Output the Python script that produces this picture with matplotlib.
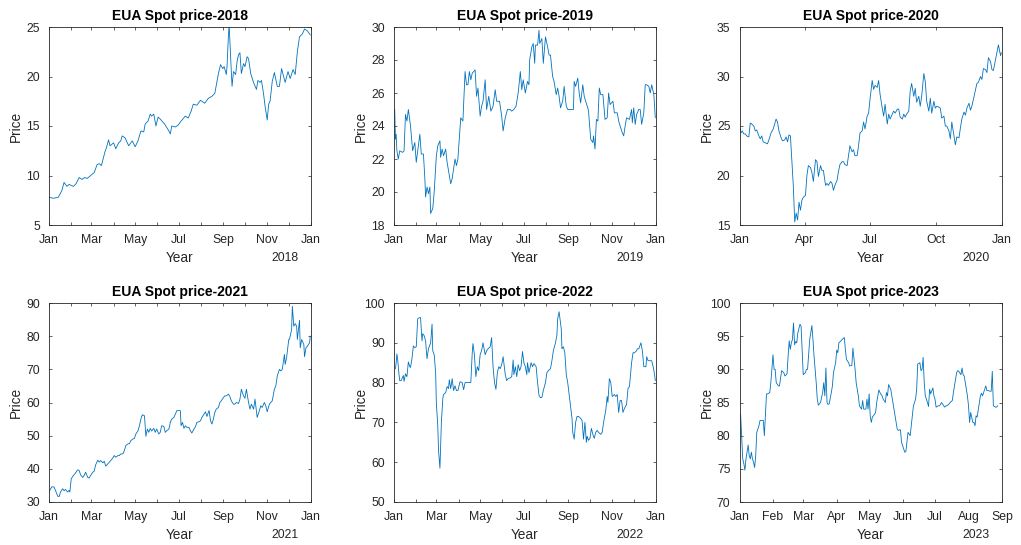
import numpy as np
import matplotlib
matplotlib.use("Agg")
import matplotlib.pyplot as plt

plt.rcParams["font.family"] = ["Liberation Sans", "DejaVu Sans"]

# Daily EUA spot prices, sampled as (day offset from 1 January, price in EUR/t)
days_2018 = [1, 6, 13, 18, 21, 25, 28, 34, 38, 42, 46, 50, 53, 58, 63, 67, 70, 73, 78, 80,
             83, 85, 90, 93, 97, 100, 102, 106, 111, 116, 120, 124, 128, 132, 134, 138, 141, 143, 146, 149,
             152, 155, 161, 167, 169, 171, 176, 180, 184, 190, 194, 198, 201, 206, 211, 217, 222, 227, 231, 236,
             239, 242, 244, 247, 248, 250, 251, 253, 255, 257, 260, 262, 264, 266, 268, 271, 273, 276, 278, 281,
             284, 286, 289, 291, 294, 296, 299, 301, 304, 306, 308, 311, 314, 318, 321, 324, 329, 333, 336, 340,
             343, 346, 349, 353, 356, 360, 364]
price_2018 = [7.8, 7.7, 7.8, 8.5, 9.3, 8.9, 9.1, 8.9, 9.2, 9.8, 9.6, 9.8, 9.7, 10.0, 10.3, 11.1, 11.2, 11.0, 12.4, 12.8,
              13.6, 13.0, 13.3, 12.7, 13.3, 13.5, 14.0, 13.8, 13.0, 13.5, 12.9, 13.5, 14.5, 14.4, 15.2, 15.5, 16.2, 16.0, 16.2, 15.0,
              15.9, 15.7, 15.2, 14.5, 14.2, 15.0, 14.9, 15.1, 15.5, 16.0, 15.8, 16.5, 17.2, 17.1, 17.6, 17.3, 17.8, 18.0, 18.3, 20.3,
              21.2, 20.8, 21.0, 20.2, 21.0, 24.2, 25.2, 22.0, 19.0, 20.5, 20.2, 21.5, 22.2, 22.4, 20.3, 21.3, 21.0, 22.0, 21.8, 20.3,
              19.6, 19.2, 18.7, 19.6, 19.4, 19.6, 18.2, 17.0, 15.6, 17.2, 17.5, 19.5, 20.4, 19.0, 19.0, 20.8, 19.4, 20.5, 19.8, 20.7,
              20.2, 22.5, 24.0, 24.3, 24.8, 24.6, 24.2]

days_2019 = [1, 2, 3, 4, 6, 8, 12, 14, 16, 18, 20, 23, 26, 29, 31, 34, 36, 38, 41, 43,
             44, 46, 48, 50, 51, 54, 56, 59, 61, 64, 65, 67, 69, 72, 74, 77, 79, 81, 85, 87,
             89, 93, 96, 99, 101, 103, 105, 107, 109, 113, 115, 117, 120, 122, 124, 127, 129, 132, 135, 138,
             141, 143, 147, 150, 152, 155, 158, 162, 164, 167, 170, 173, 176, 178, 180, 183, 186, 188, 189, 192,
             194, 196, 197, 200, 202, 203, 206, 208, 211, 214, 216, 218, 221, 223, 226, 228, 230, 232, 235, 237,
             240, 242, 244, 250, 251, 253, 256, 258, 260, 263, 265, 267, 270, 271, 274, 277, 278, 280, 282, 284,
             286, 288, 291, 294, 297, 299, 301, 305, 307, 311, 313, 315, 318, 320, 322, 324, 328, 331, 332, 334,
             336, 338, 341, 343, 345, 348, 350, 352, 355, 357, 359, 362, 364]
price_2019 = [25.0, 23.2, 23.5, 22.5, 22.0, 22.5, 22.4, 22.5, 24.7, 24.3, 25.0, 24.0, 22.5, 23.0, 21.8, 22.8, 23.5, 22.3, 22.3, 20.8,
              19.7, 20.3, 19.9, 20.3, 18.7, 19.0, 20.0, 22.2, 22.8, 23.1, 22.1, 22.6, 22.2, 22.6, 21.8, 21.0, 20.5, 20.8, 22.0, 21.6,
              22.0, 24.5, 24.3, 27.3, 26.5, 26.5, 27.3, 26.8, 27.2, 27.4, 25.8, 26.3, 24.6, 25.2, 25.5, 26.8, 25.0, 25.8, 24.9, 25.2,
              26.2, 25.5, 25.5, 24.6, 23.7, 24.5, 25.0, 25.0, 24.9, 25.0, 25.2, 26.0, 27.3, 26.2, 26.8, 26.0, 26.7, 26.5, 28.0, 28.8,
              29.0, 27.8, 28.9, 28.9, 29.8, 29.0, 29.3, 27.8, 29.4, 28.8, 28.3, 28.3, 27.0, 26.7, 25.9, 26.3, 25.8, 25.1, 25.5, 26.4,
              25.2, 25.0, 25.0, 25.0, 26.7, 26.4, 26.9, 26.0, 25.4, 26.5, 25.8, 25.5, 25.1, 24.9, 23.2, 23.0, 23.4, 22.6, 24.4, 24.3,
              26.3, 25.9, 25.9, 24.4, 24.5, 26.0, 25.3, 25.5, 24.8, 24.8, 24.3, 24.0, 23.6, 23.4, 24.0, 24.5, 24.4, 25.0, 24.2, 25.1,
              24.1, 24.7, 25.0, 25.0, 24.1, 24.8, 26.5, 26.5, 26.4, 26.0, 26.5, 25.9, 24.5]

days_2020 = [1, 2, 4, 6, 8, 10, 13, 15, 17, 20, 22, 24, 27, 29, 31, 33, 36, 39, 41, 44,
             47, 49, 51, 53, 55, 58, 60, 63, 65, 67, 69, 71, 73, 75, 77, 79, 81, 83, 85, 87,
             89, 92, 94, 96, 99, 101, 103, 106, 108, 110, 113, 115, 117, 120, 122, 124, 127, 129, 131, 133,
             136, 138, 140, 143, 145, 147, 150, 152, 154, 157, 159, 161, 164, 166, 168, 171, 173, 175, 178, 180,
             182, 185, 187, 189, 192, 194, 196, 199, 201, 203, 206, 208, 210, 213, 215, 217, 220, 222, 224, 227,
             229, 231, 233, 236, 238, 240, 243, 245, 247, 250, 252, 254, 257, 259, 261, 264, 266, 268, 271, 273,
             275, 278, 280, 282, 285, 287, 289, 292, 294, 296, 299, 301, 303, 306, 308, 310, 313, 315, 317, 320,
             322, 324, 327, 329, 331, 333, 336, 338, 340, 343, 345, 347, 350, 352, 354, 357, 359, 361, 364, 365]
price_2020 = [24.8, 24.3, 24.5, 24.2, 24.2, 24.0, 23.9, 25.3, 25.2, 25.0, 24.5, 24.6, 24.0, 23.7, 24.0, 23.4, 23.3, 23.2, 23.6, 24.3,
              24.7, 25.2, 25.7, 25.4, 24.5, 23.8, 23.5, 23.6, 23.9, 23.4, 24.1, 24.0, 21.5, 19.0, 15.3, 16.2, 15.5, 17.3, 16.5, 17.5,
              17.8, 18.0, 20.0, 21.0, 20.8, 20.3, 19.4, 21.6, 21.4, 19.9, 21.0, 20.5, 20.5, 19.0, 19.2, 19.0, 19.4, 19.2, 18.5, 19.0,
              19.5, 20.4, 21.1, 21.4, 21.4, 21.1, 21.0, 22.0, 23.0, 22.4, 22.6, 22.0, 22.0, 23.0, 24.3, 24.5, 25.4, 24.7, 26.0, 26.3,
              27.7, 29.6, 28.7, 29.1, 28.9, 29.6, 28.2, 26.8, 26.0, 27.2, 25.2, 26.2, 25.7, 26.2, 26.5, 26.3, 26.7, 26.7, 25.9, 25.7,
              26.2, 25.9, 26.2, 26.5, 28.5, 29.3, 28.0, 28.8, 27.4, 28.0, 27.0, 28.0, 30.3, 29.5, 27.5, 26.5, 27.8, 26.3, 27.5, 26.8,
              27.0, 26.9, 26.8, 25.8, 26.0, 25.0, 25.0, 24.5, 23.7, 25.4, 24.0, 23.1, 23.9, 23.8, 24.8, 25.7, 26.4, 26.1, 26.8, 27.3,
              26.6, 27.0, 28.0, 28.7, 29.3, 29.4, 30.0, 29.7, 30.8, 30.7, 30.4, 31.9, 31.5, 30.7, 30.6, 31.7, 32.4, 33.2, 32.1, 32.4]

days_2021 = [0, 1, 4, 7, 9, 12, 14, 16, 19, 21, 23, 26, 28, 29, 31, 34, 36, 40, 42, 44,
             47, 49, 51, 54, 56, 58, 61, 63, 65, 68, 70, 72, 75, 77, 79, 82, 84, 86, 89, 91,
             93, 96, 98, 100, 103, 105, 107, 110, 112, 114, 117, 119, 121, 124, 126, 128, 130, 133, 135, 137,
             139, 141, 143, 146, 148, 150, 153, 155, 157, 160, 162, 164, 167, 169, 171, 174, 176, 178, 181, 183,
             184, 186, 188, 190, 192, 195, 197, 199, 202, 204, 206, 209, 211, 213, 216, 218, 220, 223, 225, 227,
             229, 231, 233, 236, 238, 240, 243, 245, 247, 250, 252, 254, 257, 259, 261, 264, 266, 268, 271, 273,
             275, 278, 280, 282, 285, 287, 289, 290, 293, 295, 297, 300, 302, 304, 307, 309, 311, 314, 316, 318,
             321, 323, 325, 328, 329, 331, 334, 335, 338, 339, 341, 343, 345, 346, 349, 350, 352, 355, 356, 358,
             360, 363, 364]
price_2021 = [33.0, 33.5, 34.6, 34.5, 33.5, 31.8, 31.6, 33.0, 34.0, 33.4, 33.8, 33.0, 33.5, 33.0, 37.0, 38.0, 38.5, 39.7, 39.5, 38.2,
              37.4, 38.0, 39.0, 37.4, 37.2, 38.0, 39.0, 39.3, 41.2, 42.6, 42.0, 42.5, 41.8, 42.3, 40.8, 41.5, 42.0, 42.5, 43.3, 44.0,
              43.5, 44.0, 44.0, 44.5, 44.5, 45.5, 47.0, 47.5, 47.6, 48.5, 49.0, 49.2, 50.5, 51.5, 53.0, 55.0, 56.3, 56.0, 49.8, 52.0,
              51.0, 52.2, 51.4, 52.2, 51.0, 52.0, 50.5, 51.0, 53.0, 52.8, 51.0, 51.5, 52.0, 54.0, 55.0, 55.5, 56.5, 57.5, 57.6, 57.5,
              53.0, 54.0, 52.2, 53.0, 52.5, 52.5, 51.5, 50.8, 52.0, 52.7, 54.0, 54.2, 54.5, 55.5, 56.5, 57.2, 55.8, 57.6, 54.5, 53.5,
              55.0, 57.0, 58.0, 58.5, 60.0, 60.5, 61.5, 62.0, 62.0, 62.5, 61.8, 60.5, 59.5, 59.5, 60.0, 59.7, 61.0, 64.0, 62.0, 61.3,
              64.0, 60.0, 58.0, 59.5, 58.0, 61.0, 57.5, 55.5, 57.5, 59.0, 58.5, 60.0, 59.0, 57.2, 59.5, 60.0, 60.5, 64.0, 65.0, 68.0,
              70.0, 69.5, 70.0, 74.5, 71.5, 73.5, 79.0, 79.0, 82.0, 89.0, 83.0, 83.8, 83.0, 79.0, 84.8, 76.5, 79.0, 77.5, 73.8, 76.5,
              77.0, 78.0, 80.0]

days_2022 = [2, 3, 4, 5, 7, 8, 10, 13, 14, 16, 18, 20, 22, 23, 25, 27, 29, 31, 33, 35,
             37, 39, 40, 42, 44, 46, 48, 50, 51, 53, 54, 56, 58, 59, 61, 62, 64, 66, 68, 69,
             72, 74, 76, 77, 79, 81, 83, 85, 87, 89, 92, 95, 97, 99, 101, 103, 107, 109, 110, 112,
             114, 116, 118, 120, 122, 124, 127, 129, 131, 134, 136, 138, 140, 142, 144, 146, 148, 150, 152, 155,
             157, 159, 162, 164, 166, 167, 169, 171, 173, 175, 177, 179, 181, 183, 185, 186, 188, 191, 193, 195,
             198, 200, 202, 204, 206, 208, 211, 213, 215, 218, 220, 222, 225, 227, 228, 230, 232, 233, 234, 236,
             238, 240, 242, 244, 246, 248, 249, 251, 253, 255, 257, 260, 262, 264, 266, 268, 269, 271, 273, 275,
             277, 279, 281, 283, 285, 288, 290, 292, 295, 297, 298, 300, 302, 304, 307, 309, 311, 313, 315, 317,
             319, 321, 324, 326, 328, 331, 333, 335, 338, 339, 341, 344, 346, 348, 351, 352, 354, 357, 359, 361,
             363, 364]
price_2022 = [83.5, 85.0, 87.2, 86.0, 82.0, 80.5, 80.5, 81.8, 80.3, 82.2, 81.5, 85.2, 84.0, 83.8, 86.0, 89.2, 88.8, 89.0, 96.0, 96.3,
              96.3, 90.5, 92.3, 91.8, 90.5, 86.0, 88.5, 89.5, 89.8, 94.7, 88.0, 87.0, 82.5, 75.0, 69.0, 63.0, 58.5, 70.0, 76.0, 77.0,
              77.5, 79.0, 78.5, 80.7, 78.5, 81.0, 78.0, 79.2, 78.0, 78.0, 80.2, 80.0, 78.2, 80.0, 80.0, 80.0, 80.0, 87.5, 89.8, 87.0,
              81.5, 84.0, 83.0, 87.0, 88.0, 90.0, 87.0, 88.0, 88.5, 89.0, 91.3, 84.0, 80.0, 78.3, 82.5, 84.0, 83.5, 84.5, 86.5, 82.0,
              80.5, 81.0, 81.2, 81.5, 85.7, 82.0, 84.0, 81.5, 84.5, 83.0, 84.0, 87.8, 85.0, 84.0, 82.0, 85.0, 82.5, 85.0, 84.0, 84.8,
              84.0, 80.0, 76.8, 76.2, 76.3, 78.0, 80.0, 82.5, 83.0, 83.5, 85.5, 88.0, 90.0, 92.0, 96.0, 97.8, 95.0, 93.5, 88.5, 89.0,
              87.5, 82.0, 80.0, 77.0, 74.0, 71.0, 67.5, 65.8, 70.0, 71.5, 71.5, 71.0, 70.5, 65.8, 70.0, 65.0, 66.5, 65.5, 66.0, 68.5,
              67.0, 66.0, 67.5, 68.0, 67.5, 67.0, 67.5, 70.0, 73.0, 76.5, 75.0, 81.0, 80.0, 76.5, 77.0, 76.5, 77.0, 72.5, 75.5, 75.5,
              72.5, 73.5, 74.5, 78.5, 79.0, 85.0, 87.5, 87.5, 88.0, 88.5, 88.5, 90.0, 88.0, 84.0, 84.0, 86.5, 85.5, 85.5, 85.5, 84.0,
              82.0, 80.5]

days_2023 = [1, 2, 3, 4, 5, 6, 7, 8, 9, 10, 11, 12, 13, 14, 15, 16, 18, 19, 20, 22,
             23, 24, 25, 26, 28, 29, 31, 32, 33, 34, 36, 37, 39, 41, 42, 44, 45, 46, 47, 48,
             49, 50, 51, 52, 53, 54, 56, 57, 58, 59, 61, 62, 63, 65, 67, 68, 69, 71, 72, 73,
             74, 75, 77, 78, 79, 80, 81, 82, 83, 85, 86, 87, 89, 90, 91, 92, 94, 95, 97, 98,
             99, 101, 102, 104, 105, 107, 108, 110, 111, 113, 114, 115, 116, 117, 118, 119, 120, 121, 122, 123,
             124, 126, 127, 129, 130, 132, 133, 135, 136, 137, 138, 140, 141, 143, 144, 146, 147, 149, 150, 151,
             153, 154, 155, 156, 158, 159, 160, 161, 163, 164, 165, 167, 168, 169, 170, 171, 172, 174, 175, 176,
             177, 179, 180, 181, 182, 184, 185, 186, 187, 189, 190, 191, 192, 194, 195, 197, 198, 200, 201, 202,
             203, 205, 206, 207, 208, 210, 211, 212, 213, 214, 216, 217, 218, 219, 220, 222, 223, 224, 225, 227,
             228, 229, 230, 232, 233, 234, 235, 237, 238, 239]
price_2023 = [83.3, 80.0, 76.5, 75.8, 74.8, 76.5, 77.5, 78.6, 77.0, 76.5, 77.5, 76.5, 76.0, 75.2, 77.0, 80.5, 81.5, 82.3, 82.3, 82.3,
              80.0, 83.0, 86.3, 86.3, 86.5, 88.0, 92.2, 90.0, 90.0, 88.0, 87.5, 87.5, 89.8, 89.5, 89.0, 89.3, 92.0, 94.3, 93.0, 94.0,
              94.5, 97.0, 93.7, 94.2, 94.0, 95.5, 96.8, 96.5, 93.0, 89.2, 89.5, 90.0, 90.0, 94.5, 96.6, 94.5, 92.0, 88.0, 85.5, 84.6,
              84.8, 85.0, 86.5, 88.0, 86.0, 90.2, 85.0, 84.7, 84.8, 86.5, 87.5, 89.5, 91.0, 92.9, 92.5, 94.0, 94.3, 94.5, 94.8, 93.0,
              91.5, 91.0, 90.5, 90.6, 93.2, 90.0, 88.0, 86.0, 84.5, 84.0, 85.3, 84.0, 84.0, 84.0, 85.5, 84.0, 86.3, 83.0, 82.0, 82.8,
              83.0, 83.5, 85.0, 86.9, 86.5, 86.0, 85.5, 85.0, 86.5, 86.0, 87.7, 87.0, 86.0, 84.0, 83.0, 81.0, 80.8, 80.9, 79.0, 78.5,
              77.5, 77.6, 79.0, 80.5, 80.0, 81.5, 83.0, 84.5, 85.5, 87.0, 90.8, 91.0, 89.8, 90.0, 91.8, 88.0, 86.0, 85.0, 84.4, 87.0,
              86.3, 87.2, 86.0, 85.5, 84.3, 84.5, 84.5, 84.7, 85.0, 84.5, 84.3, 84.5, 84.5, 84.8, 85.0, 85.3, 86.5, 88.5, 89.5, 89.8,
              89.7, 89.2, 90.2, 89.2, 89.0, 87.0, 86.0, 84.5, 82.0, 83.5, 82.0, 82.0, 81.5, 83.0, 82.8, 85.0, 86.0, 86.4, 86.0, 87.0,
              87.5, 86.8, 86.8, 86.7, 86.7, 89.7, 84.5, 84.3, 84.3, 84.5]

years = [2018, 2019, 2020, 2021, 2022, 2023]
day_series = [days_2018, days_2019, days_2020, days_2021, days_2022, days_2023]
price_series = [price_2018, price_2019, price_2020, price_2021, price_2022, price_2023]
y_limits = [(5, 25), (18, 30), (15, 35), (30, 90), (50, 100), (70, 100)]
y_steps = [5, 2, 5, 10, 10, 5]
x_end = ["2019-01-01", "2020-01-01", "2021-01-01", "2022-01-01", "2023-01-01", "2023-09-01"]
tick_month_step = [1, 1, 3, 1, 1, 1]
label_month_step = [2, 2, 3, 2, 2, 1]

LINE = "#0072BD"
INK = "#262626"

W, H = 1021, 545
fig = plt.figure(figsize=(W / 100, H / 100), dpi=100)

# axes boxes in pixels: (left, right) per column, (top, bottom) per row
col_x = [(49, 311), (394, 656), (739.5, 1002)]
row_y = [(27, 225), (303, 502)]

for i, yr in enumerate(years):
    r, c = divmod(i, 3)
    x0, x1 = col_x[c]
    t0, b0 = row_y[r]
    ax = fig.add_axes([x0 / W, 1 - b0 / H, (x1 - x0) / W, (b0 - t0) / H])
    bw, bh = x1 - x0, b0 - t0

    start = np.datetime64(f"{yr}-01-01")
    dates = start + np.array(day_series[i], dtype="timedelta64[D]")
    ax.plot(dates, price_series[i], color=LINE, lw=0.6)

    end = np.datetime64(x_end[i])
    ax.set_xlim(start, end)
    lo, hi = y_limits[i]
    ax.set_ylim(lo, hi)
    ax.set_yticks(np.arange(lo, hi + 0.001, y_steps[i]))

    # monthly ticks, labelled at regular month steps
    months = np.arange(np.datetime64(f"{yr}-01"), np.datetime64(x_end[i][:7]) + 1,
                       tick_month_step[i])
    ax.set_xticks(months.astype("datetime64[D]"))
    labels = []
    for m in months:
        mi = int(str(m)[5:7])
        show = ((mi - 1) % label_month_step[i]) == 0
        labels.append(m.astype("datetime64[D]").item().strftime("%b") if show else "")
    ax.set_xticklabels(labels)

    ax.tick_params(direction="in", top=True, right=True, length=2.2, width=0.5,
                   color=INK, labelcolor=INK, labelsize=8.8, pad=6.5)
    for s in ax.spines.values():
        s.set_linewidth(0.6)
        s.set_color(INK)

    ax.text(0.5, 1 + 11 / bh, f"EUA Spot price-{yr}", transform=ax.transAxes,
            ha="center", va="center", fontsize=10, fontweight="bold", color="black")
    ax.text(0.5, -33 / bh, "Year", transform=ax.transAxes, ha="center",
            va="center", fontsize=9.8, color=INK)
    ax.text(1 - 12 / bw, -33 / bh, str(yr), transform=ax.transAxes, ha="right",
            va="center", fontsize=8.8, color=INK)
    ax.set_ylabel("Price", fontsize=9.8, color=INK)
    ax.yaxis.set_label_coords(-26 / bw, 0.5)

fig.savefig("out.png", dpi=100, facecolor="white")
